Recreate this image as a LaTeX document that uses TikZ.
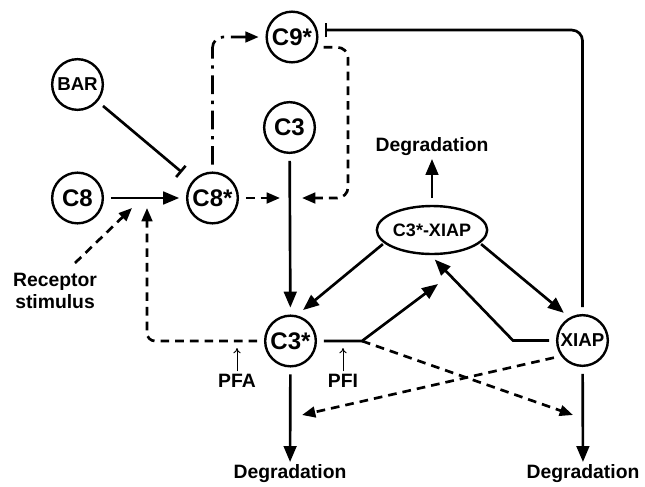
\documentclass[tikz,border=0pt]{standalone}
\usepackage{fontspec}
\setmainfont{Liberation Sans}
\usetikzlibrary{arrows.meta,shapes.geometric}

\begin{document}
\begin{tikzpicture}[x=0.75pt,y=-0.75pt,
  mol/.style={circle, draw, line width=1.8pt, minimum size=38pt, inner sep=0pt,
    outer sep=6pt, font=\fontsize{18}{20}\selectfont\bfseries},
  molsm/.style={font=\fontsize{14}{16}\selectfont\bfseries},
  cplx/.style={ellipse, draw, line width=1.8pt, minimum width=72pt, minimum height=36pt,
    inner sep=0pt, outer sep=2pt, font=\fontsize{13.5}{16}\selectfont\bfseries},
  lbl/.style={font=\fontsize{14.5}{16.5}\selectfont\bfseries, align=center, inner sep=2pt},
  act/.style={line width=2pt, -{Triangle[length=12pt,width=9.5pt]}},
  dact/.style={line width=2pt, -{Triangle[length=10pt,width=8pt]}},
  inh/.style={line width=2pt, -{Bar[width=11pt]}},
  dsh/.style={dash pattern=on 6.5pt off 4.5pt},
  dshdot/.style={dash pattern=on 14pt off 5pt on 2.5pt off 5pt},
  thinarr/.style={line width=0.7pt, -{To[length=4pt,width=5.5pt]}}]
  \useasboundingbox (0,0) rectangle (645,486);
  % --- species
  \node[mol] (c9s) at (292,37) {C9*};
  \node[mol,molsm] (bar) at (77.5,84.5) {BAR};
  \node[mol] (c3) at (289.5,127.5) {C3};
  \node[mol] (c8) at (77.5,198) {C8};
  \node[mol] (c8s) at (212.5,198) {C8*};
  \node[cplx] (cx) at (432,230) {C3*-XIAP};
  \node[mol] (c3s) at (290.5,341) {C3*};
  \node[mol,molsm] (xiap) at (582.5,340.5) {XIAP};
  % --- plain labels
  \node[lbl] (degt) at (432,147) {Degradation};
  \node[lbl] (degl) at (290,474) {Degradation};
  \node[lbl] (degr) at (583,474) {Degradation};
  \node[lbl] (rec) at (55,291) {Receptor\\stimulus};
  \node[lbl] (pfa) at (237,381) {PFA};
  \node[lbl] (pfi) at (343,381) {PFI};
  % --- junctions and free ends
  \coordinate (rs) at (75,263);
  \coordinate (rt) at (132,208);
  \coordinate (pfatip) at (147,208);
  \coordinate (ja) at (280,198);
  \coordinate (jb) at (302,198);
  \coordinate (kc) at (348,198);
  \coordinate (xb) at (513,340.5);
  \coordinate (br) at (362,341);
  \coordinate (brt) at (438,284);
  \coordinate (dr) at (573,415);
  \coordinate (dl) at (302,415);
  \coordinate (pfaup) at (237,348);
  \coordinate (pfiup) at (343,348);
  % --- activation of C8
  \draw[act] (c8) -- (c8s);
  \draw[dsh,dact] (rs) -- (rt);
  \draw[dsh,dact,rounded corners=6pt] (c3s.west) -| (pfatip);
  \draw[inh,shorten >=5pt] (bar) -- (c8s);
  % --- C8* to C9* and on to the C3 line
  \draw[dshdot,dact,rounded corners=8pt] (c8s.north) |- (c9s.west);
  \draw[dsh,dact] (c8s) -- (ja);
  \draw[dsh,dact,rounded corners=8pt] (c9s.-18) -| (kc) -- (jb);
  \draw[inh,rounded corners=8pt] (xiap.north) |- (c9s.12);
  % --- C3*, XIAP and the complex
  \draw[act] (c3) -- (c3s);
  \draw[act] (cx.196) -- (c3s.68);
  \draw[act] (cx.-16) -- (xiap.124);
  \draw[act,shorten >=3pt] (xiap.west) -- (xb) -- (cx.south);
  \draw[act] (c3s.east) -- (br) -- (brt);
  \draw[dsh,dact] (br) -- (dr);
  \draw[dsh,dact] (xiap.211) -- (dl);
  % --- degradation
  \draw[act] (c3s) -- (degl);
  \draw[act] (xiap) -- (degr);
  \draw[act,shorten <=4pt] (cx) -- (degt);
  \draw[thinarr] (pfa) -- (pfaup);
  \draw[thinarr] (pfi) -- (pfiup);
\end{tikzpicture}
\end{document}
